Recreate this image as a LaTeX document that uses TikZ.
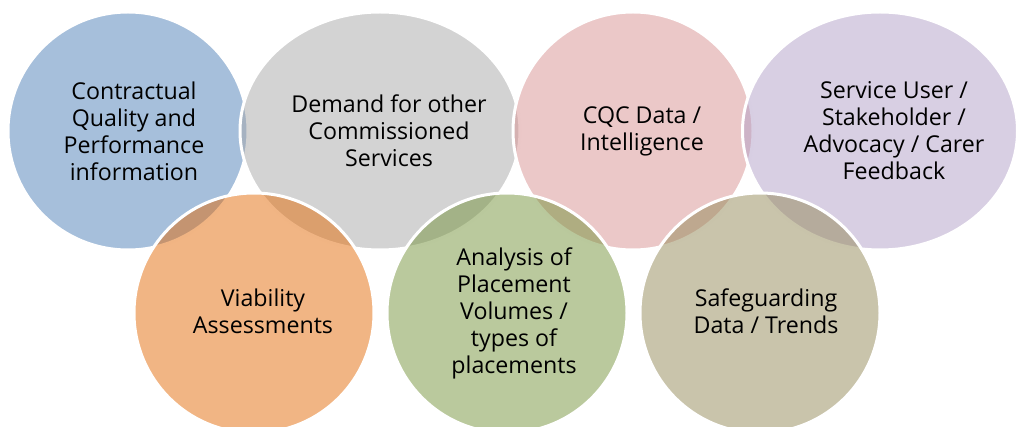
\documentclass[tikz,border=0pt]{standalone}
\usepackage{fontspec}
\setmainfont{Open Sans}
\usepackage{tikz}
\usetikzlibrary{shapes.geometric}
\definecolor{infoblue}{RGB}{77,127,183}
\definecolor{infogray}{RGB}{167,167,167}
\definecolor{infopink}{RGB}{215,145,145}
\definecolor{infopurple}{RGB}{177,159,199}
\definecolor{infoorange}{RGB}{227,107,9}
\definecolor{infogreen}{RGB}{117,147,59}
\definecolor{infotan}{RGB}{147,137,87}
\tikzset{
    bubble/.style={ellipse, draw=white, line width=1.5pt, fill opacity=.5,
        inner sep=0pt, minimum height=119pt},
    smallbubble/.style={bubble, minimum width=120pt},
    roundbubble/.style={bubble, minimum width=120pt, minimum height=120pt},
    bubbletext/.style={align=center, inner sep=0pt, text opacity=1,
        font=\fontsize{11.6}{13.5}\selectfont},
}

\begin{document}
\begin{tikzpicture}[x=0.5pt, y=-0.5pt]
	\useasboundingbox (0,0) rectangle (1019,427);
	\node[smallbubble, fill=infoblue, label={[bubbletext, xshift=3pt]center:{Contractual\\Quality and\\Performance\\information}}] (contract) at (128,131) {};
	\node[bubble, fill=infogray, minimum width=140pt, label={[bubbletext, xshift=4.5pt]center:{Demand for other\\Commissioned\\Services}}] (demand) at (380,131) {};
	\node[smallbubble, fill=infopink, label={[bubbletext, xshift=4.5pt]center:{CQC Data /\\Intelligence}}] (cqc) at (633,131) {};
	\node[bubble, fill=infopurple, minimum width=137.5pt, label={[bubbletext, xshift=7pt]center:{Service User /\\Stakeholder /\\Advocacy / Carer\\Feedback}}] (feedback) at (880,131) {};
	\node[roundbubble, fill=infoorange, label={[bubbletext, xshift=4.5pt, yshift=1pt]center:{Viability\\Assessments}}] (viability) at (254,313) {};
	\node[roundbubble, fill=infogreen, label={[bubbletext, xshift=3.5pt]center:{Analysis of\\Placement\\Volumes /\\types of\\placements}}] (placement) at (507,313) {};
	\node[roundbubble, fill=infotan, label={[bubbletext, xshift=3pt, yshift=1pt]center:{Safeguarding\\Data / Trends}}] (safeguard) at (760,313) {};
\end{tikzpicture}
\end{document}
